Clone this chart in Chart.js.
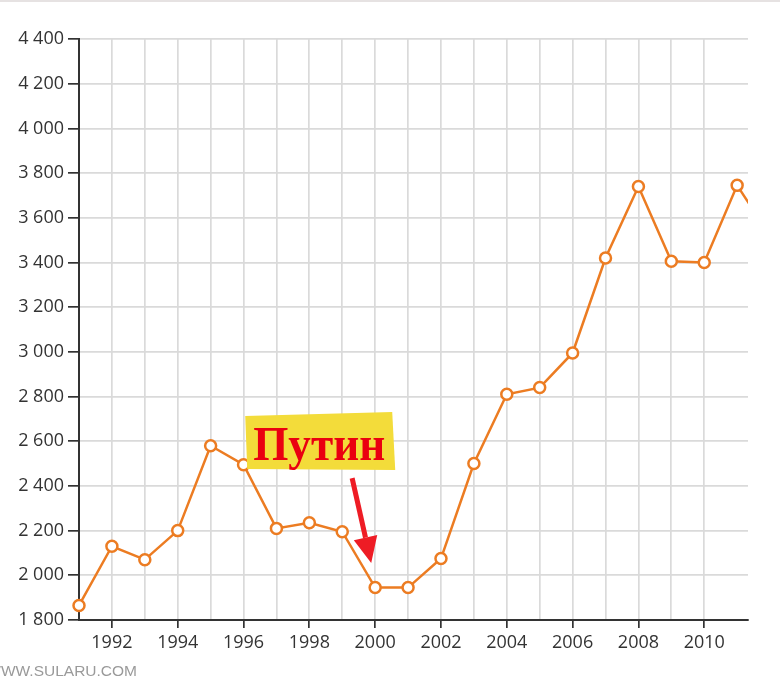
<!DOCTYPE html>
<html>
<head>
<meta charset="utf-8">
<script src="https://cdn.jsdelivr.net/npm/chart.js@4"></script>
<style>
  html, body { margin: 0; padding: 0; background: #fff; overflow: hidden; }
  #wrap { position: relative; width: 780px; height: 680px; border-top: 2px solid #e6e2e2; box-sizing: border-box; }
  #mark { position: absolute; right: 643px; top: 660px; white-space: nowrap; font: 15.5px "Liberation Sans", Arial, sans-serif; color: #9a9a9a; }
</style>
</head>
<body>
<div id="wrap">
  <canvas id="chart" width="780" height="678"></canvas>
  <div id="mark">WWW.SULARU.COM</div>
</div>
<script>
// ===== Data =====
const years  = [1991, 1992, 1993, 1994, 1995, 1996, 1997, 1998, 1999, 2000, 2001,
                2002, 2003, 2004, 2005, 2006, 2007, 2008, 2009, 2010, 2011, 2012];
const values = [1865, 2130, 2070, 2200, 2580, 2495, 2210, 2235, 2195, 1945, 1945,
                2075, 2500, 2810, 2840, 2995, 3420, 3740, 3405, 3400, 3745, 3520];
const yTicks = [1800, 2000, 2200, 2400, 2600, 2800, 3000, 3200, 3400, 3600, 3800, 4000, 4200, 4400];
const xRange = [1991, 2011.33];
const noteText = 'Путин';

const orange = '#ec7c22';
const fmt = v => String(v).replace(/\B(?=(\d{3})+(?!\d))/g, ' ');

// ===== Annotation (label + arrow) =====
const notePlugin = {
  id: 'note',
  afterDatasetsDraw(chart) {
    const { ctx, scales: { x, y } } = chart;
    ctx.save();
    // yellow highlighter box
    const cx = x.getPixelForValue(1998.3), cy = y.getPixelForValue(2592);
    ctx.fillStyle = '#f3dc3a';
    ctx.beginPath();
    ctx.moveTo(cx - 74, cy - 27);
    ctx.lineTo(cx + 73, cy - 31);
    ctx.lineTo(cx + 76, cy + 27);
    ctx.lineTo(cx - 72, cy + 26);
    ctx.closePath();
    ctx.fill();
    ctx.fillStyle = '#ea0010';
    ctx.font = 'bold 48px "Liberation Serif", "Times New Roman", serif';
    ctx.textAlign = 'center';
    ctx.textBaseline = 'alphabetic';
    const w = ctx.measureText(noteText).width;
    const sx = 132 / w;
    ctx.translate(cx, cy + 17);
    ctx.scale(sx, 1);
    ctx.fillText(noteText, 0, 0);
    ctx.restore();

    // arrow
    ctx.save();
    const x0 = x.getPixelForValue(1999.30), y0 = y.getPixelForValue(2435);
    const x1 = x.getPixelForValue(1999.88), y1 = y.getPixelForValue(2055);
    const ang = Math.atan2(y1 - y0, x1 - x0);
    const headLen = 26, headW = 12;
    const bx = x1 - headLen * Math.cos(ang), by = y1 - headLen * Math.sin(ang);
    ctx.strokeStyle = '#ee1c25';
    ctx.fillStyle = '#ee1c25';
    ctx.lineWidth = 5;
    ctx.beginPath();
    ctx.moveTo(x0, y0);
    ctx.lineTo(bx, by);
    ctx.stroke();
    ctx.beginPath();
    ctx.moveTo(x1, y1);
    ctx.lineTo(bx + headW * Math.sin(ang), by - headW * Math.cos(ang));
    ctx.lineTo(bx - headW * Math.sin(ang), by + headW * Math.cos(ang));
    ctx.closePath();
    ctx.fill();
    ctx.restore();
  }
};

const ctx = document.getElementById('chart').getContext('2d');
new Chart(ctx, {
  type: 'line',
  data: {
    datasets: [{
      data: years.map((yr, i) => ({ x: yr, y: values[i] })),
      borderColor: orange,
      borderWidth: 2.5,
      backgroundColor: '#fff',
      pointBackgroundColor: '#fff',
      pointBorderColor: orange,
      pointBorderWidth: 2.5,
      pointRadius: 5.5,
      tension: 0,
      clip: { left: 10, top: 10, right: 0, bottom: 10 }
    }]
  },
  options: {
    responsive: false,
    animation: false,
    layout: { padding: { top: 37, right: 32, left: 0, bottom: 0 } },
    plugins: { legend: { display: false }, tooltip: { enabled: false } },
    scales: {
      x: {
        type: 'linear',
        min: xRange[0],
        max: xRange[1],
        afterBuildTicks: s => { s.ticks = s.ticks.filter(t => Number.isInteger(t.value)); },
        afterFit: s => { s.height = 60; },
        ticks: {
          stepSize: 1,
          autoSkip: false,
          maxRotation: 0,
          padding: 4,
          color: '#333',
          font: { family: '"Open Sans", sans-serif', size: 18 },
          callback: v => (v % 2 === 0 ? String(v) : '')
        },
        grid: {
          color: '#dadada',
          lineWidth: 1.7,
          tickLength: 8,
          tickColor: c => (c.tick && c.tick.value % 2 === 0 ? '#333' : 'rgba(0,0,0,0)')
        },
        border: { color: '#333', width: 2 }
      },
      y: {
        min: yTicks[0],
        max: yTicks[yTicks.length - 1],
        afterBuildTicks: s => { s.ticks = yTicks.map(v => ({ value: v })); },
        afterFit: s => { s.width = 79; },
        ticks: {
          padding: 4,
          color: '#333',
          font: { family: '"Open Sans", sans-serif', size: 18 },
          callback: v => fmt(v)
        },
        grid: { color: '#dadada', lineWidth: 1.7, tickLength: 11, tickColor: '#333' },
        border: { color: '#333', width: 2 }
      }
    }
  },
  plugins: [notePlugin]
});
</script>
</body>
</html>
